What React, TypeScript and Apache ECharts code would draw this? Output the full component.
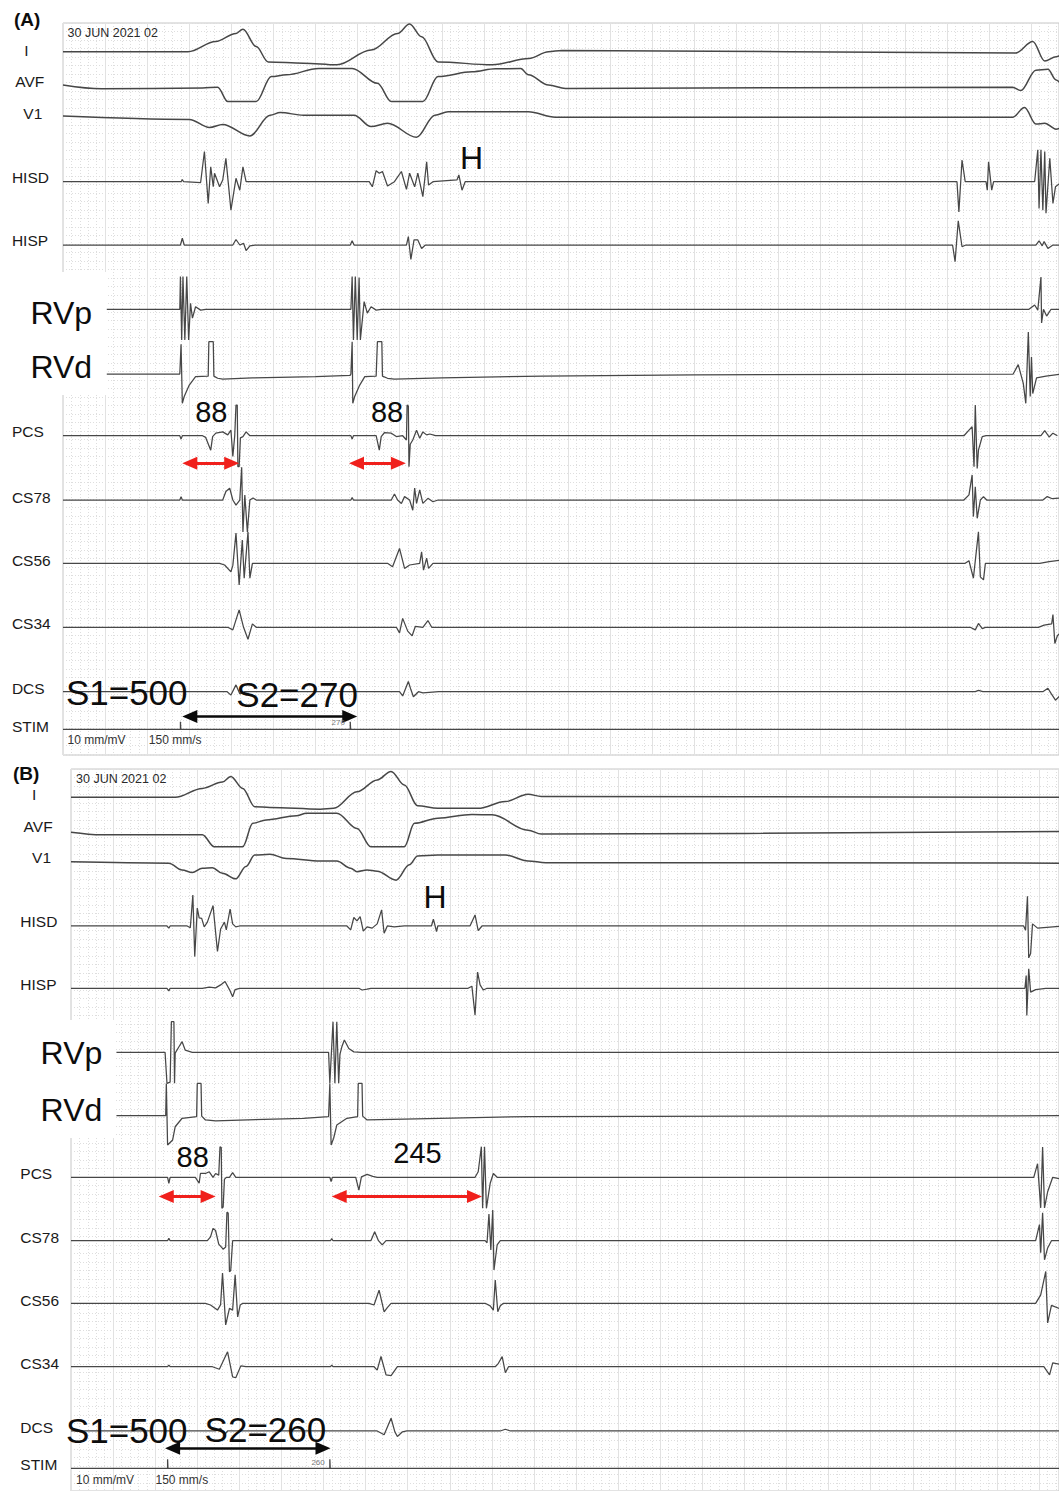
import React, { useEffect, useRef } from 'react';
import * as echarts from 'echarts';

type Pt = [number, number];

// ---------- channel names ----------
const channels = ['I', 'AVF', 'V1', 'HISD', 'HISP', 'RVp', 'RVd', 'PCS', 'CS78', 'CS56', 'CS34', 'DCS', 'STIM'];

// ---------- Panel A traces: [time ms, amplitude mm (10 mm/mV)] ----------
const aI: Pt[] = [[0,0],[198,0],[242,2.4],[274,4.3],[285,5.3],[306,1.2],[325,-2.4],[381,-2.7],[434,-3.1],[488,0.4],[530,4.3],[549,6.5],[568,3.5],[594,-2.4],[680,-3.1],[738,-1.6],[769,0],[790,0.3],[1509,-0.3],[1536,2.4],[1555,-2.2],[1573,-1.2],[1582,-0.6]];
const aAVF: Pt[] = [[0,0.7],[61,-0.2],[221,0],[245,0.2],[261,-3.2],[306,-3.2],[330,2.7],[354,3.1],[405,4.6],[458,4.6],[498,1.1],[520,-3.2],[570,-3.2],[594,2.7],[648,3.8],[685,4.5],[725,4.6],[737,3.1],[769,0.7],[796,-0.1],[1504,0.2],[1517,-0.6],[1541,4.2],[1560,4.4],[1573,1.9],[1582,0.5]];
const aV1: Pt[] = [[0,0],[200,-0.8],[232,-2.7],[253,-2.0],[296,-4.7],[328,0.2],[344,0.8],[381,0.2],[461,0.2],[488,-2.5],[514,-1.7],[560,-5.0],[589,0.2],[610,1.0],[737,1.0],[780,-0.3],[1504,-0.3],[1523,2.0],[1541,-1.9],[1555,-1.7],[1573,-3.1],[1582,-2.6]];
const aHISD: Pt[] = [[0,0],[187,0],[189,0.5],[191,0],[218,-0.2],[224,7.1],[230,-5.1],[234,3.5],[238,-1.2],[240,2.0],[248,-1.2],[253,0.4],[258,5.5],[266,-6.7],[274,0.8],[280,-2.0],[285,3.5],[290,0],[485,0],[490,-1.2],[496,2.6],[501,2.0],[506,2.4],[514,-1.0],[525,0],[536,2.4],[544,-1.8],[549,2.0],[557,-1.2],[562,2.0],[570,-3.5],[576,4.7],[579,-0.8],[586,0],[624,0.4],[627,1.6],[632,-2.0],[637,0],[1416,0],[1419,-7.1],[1424,5.1],[1429,0],[1462,0],[1464,-2.0],[1466,4.7],[1471,-2.0],[1474,0],[1539,0],[1544,7.5],[1546,-6.3],[1549,7.5],[1552,-6.7],[1555,7.1],[1557,-7.4],[1563,5.5],[1568,-5.1],[1572,-1.2],[1582,0]];
const aHISP: Pt[] = [[0,0],[186,0],[189,1.6],[192,0],[269,0],[274,1.3],[280,0],[286,0.4],[290,-1.3],[296,-0.2],[304,0],[455,0],[458,1.0],[461,0],[544,0],[547,2.0],[551,-3.4],[556,1.2],[562,1.2],[568,-0.8],[574,0],[1409,0],[1413,-3.9],[1418,5.7],[1424,-0.4],[1430,0],[1541,0],[1546,1.0],[1551,-0.2],[1554,0.8],[1560,-0.8],[1568,0],[1582,0]];
const aRVp: Pt[] = [[69,0],[185,0],[186,7.7],[188,-7.2],[190,7.7],[193,-7.2],[196,7.7],[199,-7.2],[202,1.4],[205,-2.1],[210,0.6],[218,-0.2],[226,0],[456,0],[458,7.7],[460,-7.2],[463,7.7],[466,-7.2],[469,7.5],[471,-7.2],[477,1.8],[482,-0.9],[488,0.6],[496,-0.2],[504,0],[1530,0],[1539,1.0],[1544,-0.2],[1549,7.6],[1550,-3.2],[1553,0],[1558,-1.6],[1565,0],[1582,0]];
const aRVd: Pt[] = [[69,0],[185,0],[187,7.0],[189,-6.9],[192,-5.3],[200,-2.6],[210,-0.6],[230,-0.5],[231,7.6],[238,7.6],[239,-0.5],[245,-1.0],[253,-1.2],[300,-0.9],[400,-0.6],[455,-0.3],[456,0],[458,7.6],[459,-6.9],[462,-5.3],[470,-2.6],[478,-0.6],[496,-0.5],[498,7.6],[505,7.6],[506,-0.5],[514,-1.0],[525,-1.2],[600,-0.9],[760,-0.5],[1000,-0.2],[1505,0],[1513,2.2],[1521,-2.2],[1525,-6.9],[1529,9.9],[1532,-5.3],[1534,4.0],[1536,-4.6],[1542,-0.9],[1557,-0.5],[1582,0]];
const aPCS: Pt[] = [[0,0],[185,0],[187,-0.8],[189,0],[221,0],[226,-0.4],[234,-3.4],[237,-0.2],[242,0.6],[253,0.9],[261,0.2],[266,1.3],[269,-4.9],[272,0],[274,7.2],[276,7.2],[277,-7.3],[279,-7.3],[281,-0.5],[285,-0.2],[290,0.9],[296,0],[456,0],[458,-0.8],[460,0],[496,0],[501,-3.4],[504,-0.2],[509,0.7],[520,0.6],[528,-0.2],[538,0],[544,-1.0],[545,7.2],[547,7.0],[548,-7.3],[550,-2.0],[554,-1.0],[560,1.3],[565,-0.6],[570,0.9],[576,0.2],[581,0.4],[590,0],[1427,0],[1435,1.3],[1440,2.1],[1443,-7.3],[1445,7.2],[1448,-7.7],[1450,-3.4],[1456,-0.2],[1462,0],[1549,0],[1555,1.2],[1562,-0.3],[1568,0.6],[1575,0]];
const aCS78: Pt[] = [[0,0],[185,0],[187,0.8],[189,0],[253,0],[258,2.0],[264,2.8],[269,0],[274,-1.2],[280,0],[283,7.7],[285,-7.5],[288,1.2],[292,-7.5],[296,0],[301,0.5],[306,0],[456,0],[458,0.6],[460,0],[520,0],[525,1.4],[530,0],[536,-0.8],[541,0.8],[549,0],[554,-2.4],[557,2.8],[560,-0.8],[565,2.4],[570,-0.8],[578,0.4],[586,-0.4],[594,0],[1427,0],[1435,1.2],[1440,5.9],[1442,-3.9],[1445,3.1],[1448,-4.3],[1453,0],[1458,0.8],[1463,0],[1552,0],[1559,0.8],[1567,0.3],[1582,0.5]];
const aCS56: Pt[] = [[0,0],[248,0],[256,-0.4],[266,-2.0],[269,-0.5],[274,7.1],[279,-5.1],[284,5.5],[287,-3.5],[293,7.4],[296,-3.5],[300,0],[514,0],[522,-0.8],[533,3.5],[541,-1.2],[549,-0.4],[565,0],[568,2.7],[571,-1.6],[576,1.2],[579,-1.2],[586,0],[1429,0],[1435,0.6],[1442,-3.5],[1450,7.4],[1453,-3.2],[1458,-3.9],[1461,0],[1547,0],[1562,0.4],[1582,0.8]];
const aCS34: Pt[] = [[0,0],[261,0],[269,-0.6],[279,4.1],[286,0],[293,-2.8],[300,0.8],[306,0],[528,0],[533,-1.3],[538,2.1],[546,-0.9],[553,-2.0],[558,0.2],[570,0],[578,1.6],[584,0],[1437,0],[1445,-0.6],[1450,0.9],[1456,-0.3],[1461,0],[1545,0],[1554,0.5],[1566,0.8],[1568,3.0],[1571,-3.8],[1575,-2.0],[1582,-1.0]];
const aDCS: Pt[] = [[0,0],[260,0],[266,-0.8],[274,1.6],[280,-0.5],[288,0],[533,0],[538,-1.0],[547,2.4],[551,0.5],[555,-1.2],[563,0],[570,-0.3],[595,0],[1445,0],[1450,0.3],[1457,0],[1552,0],[1560,0.8],[1565,-0.4],[1572,-2.0],[1582,-0.5]];
const aSTIM: Pt[] = [[0,0],[186,0],[186,1.8],[186.6,0],[455,0],[455,1.8],[455.6,0],[1582,0]];

// ---------- Panel B traces ----------
const bI: Pt[] = [[0,0],[165,0],[208,2.1],[240,3.6],[253,4.9],[272,2.1],[291,-2.2],[315,-2.4],[395,-2.8],[416,-2.6],[453,1.3],[485,4.1],[507,6.1],[528,2.9],[549,-2.0],[581,-2.6],[645,-2.6],[688,-1.0],[724,0.7],[745,0.2],[1570,0]];
const bAVF: Pt[] = [[0,0.4],[48,-0.2],[208,-0.2],[227,-3.0],[272,-3.0],[288,2.5],[309,3.3],[357,4.3],[373,4.9],[421,4.9],[453,1.3],[475,-3.0],[528,-3.0],[544,2.5],[581,3.7],[635,4.6],[667,4.5],[724,0.9],[745,0],[1570,0.6]];
const bV1: Pt[] = [[0,0.2],[155,-0.1],[176,-1.7],[192,-2.3],[208,-1.3],[224,-1.2],[240,-2.5],[261,-3.8],[277,-0.9],[291,1.8],[315,2.0],[341,1.0],[395,0.4],[421,0.4],[443,-1.3],[453,-2.1],[469,-1.7],[485,-2.0],[515,-4.1],[536,-0.5],[549,1.6],[581,1.8],[688,1.8],[724,0.4],[752,0],[1570,-0.1]];
const bHISD: Pt[] = [[0,0],[152,0],[155,-0.5],[157,0],[184,0],[189,-0.4],[193,7.3],[196,-7.2],[200,4.2],[203,1.9],[207,1.8],[211,-0.2],[216,0.9],[225,4.8],[232,-6.0],[237,-0.7],[243,0.9],[246,-0.9],[252,4.0],[256,0.5],[261,-0.2],[267,0],[437,0],[443,-0.9],[448,2.0],[453,1.2],[458,2.2],[463,-1.2],[469,-0.2],[477,-0.5],[485,0.5],[492,3.8],[496,-1.7],[501,0],[512,-0.2],[528,0],[571,0],[574,1.6],[579,-1.3],[581,0],[632,0],[640,2.6],[645,-1.1],[651,0],[1509,0],[1512,-1.0],[1515,7.0],[1517,-7.5],[1520,-6.5],[1523,0.5],[1531,-0.5],[1570,0]];
const bHISP: Pt[] = [[0,0],[152,0],[155,-0.6],[157,0],[208,0],[219,0.3],[229,0.1],[237,0.8],[244,1.6],[251,-0.3],[256,-2.0],[260,-0.3],[267,0],[456,0],[461,-0.4],[469,-0.2],[475,0],[629,0],[635,0.5],[640,-6.3],[644,3.8],[648,0.8],[653,-0.4],[659,0],[1511,0],[1513,3.0],[1514,-6.4],[1517,4.6],[1520,-0.9],[1528,-0.3],[1544,0],[1570,0]];
const bRVp: Pt[] = [[72,0],[149,0],[152,-7.3],[157,-7.0],[159,7.2],[163,7.2],[164,-7.3],[165,-0.2],[171,1.3],[176,2.5],[181,0.5],[192,0],[408,0],[410,-7.3],[415,7.2],[418,-7.3],[421,7.2],[424,-7.3],[426,-0.5],[429,1.3],[433,2.9],[440,0.9],[448,0.1],[460,0],[1570,0]];
const bRVd: Pt[] = [[72,0],[150,0],[151,7.6],[153,-6.9],[161,-5.7],[165,-2.6],[176,-0.6],[199,-0.2],[200,7.6],[206,7.6],[207,-0.1],[213,-1.0],[229,-1.2],[368,-0.6],[408,-0.2],[410,7.6],[412,-6.9],[416,-5.3],[421,-2.2],[437,-0.6],[454,-0.2],[455,7.6],[461,7.6],[462,-0.1],[469,-1.0],[528,-0.8],[724,-0.2],[1570,0]];
const bPCS: Pt[] = [[0,0],[153,0],[155,-1.4],[157,0],[197,0],[203,-1.4],[205,0.9],[213,0.9],[219,1.3],[225,0],[229,0.9],[234,0.5],[236,7.2],[238,7.0],[239,-7.3],[241,-7.0],[243,-0.5],[246,0],[251,0],[256,1.1],[261,0],[410,0],[412,-1.0],[414,0],[451,0],[456,-3.0],[460,0.1],[469,0.7],[478,0.2],[485,0],[640,0],[645,1.3],[650,7.2],[652,-7.3],[655,7.2],[658,-7.3],[664,-1.4],[669,0.9],[675,0],[1525,0],[1531,3.2],[1536,-7.2],[1539,7.1],[1542,-7.2],[1547,-3.4],[1555,0],[1570,-0.5]];
const bCS78: Pt[] = [[0,0],[153,0],[155,0.6],[157,0],[216,0],[221,0.9],[225,2.9],[229,2.4],[234,-0.8],[241,-2.0],[245,-1.5],[247,6.7],[249,6.5],[251,-7.3],[253,-7.0],[256,0],[261,0],[411,0],[413,0.5],[415,0],[475,0],[481,2.1],[487,0],[493,-1.0],[499,0],[656,0],[659,-0.5],[662,6.3],[665,-2.2],[668,7.2],[670,-6.9],[675,-1.0],[680,0],[1528,0],[1534,3.8],[1536,-2.8],[1539,6.6],[1542,-4.5],[1547,-1.7],[1553,0],[1570,0]];
const bCS56: Pt[] = [[0,0],[213,0],[221,-0.4],[232,-1.6],[237,-0.3],[240,7.1],[245,-5.1],[251,-1.2],[256,-1.6],[260,6.7],[264,-3.2],[268,-0.4],[272,0],[472,0],[480,-0.4],[488,3.1],[496,-2.0],[501,-1.0],[507,0],[656,0],[664,-0.6],[669,-1.6],[672,5.5],[676,-2.0],[680,-0.6],[685,0],[1528,0],[1536,2.0],[1544,7.5],[1547,-4.6],[1553,-0.5],[1570,-1.5]];
const bCS34: Pt[] = [[0,0],[153,0],[155,0.4],[157,0],[224,0],[235,-0.6],[248,3.5],[256,-2.4],[261,-2.6],[269,0.2],[277,0],[411,0],[413,0.4],[415,0],[480,0],[485,-0.8],[491,2.4],[499,-1.9],[507,-2.1],[517,0],[672,0],[677,0.8],[683,2.4],[688,-1.4],[693,0],[1541,0],[1550,-1.9],[1555,0.9],[1570,0.5]];
const bDCS: Pt[] = [[0,0],[229,0],[237,0.6],[243,-0.9],[248,0],[485,0],[496,-0.9],[507,3.0],[513,-0.2],[517,-1.3],[525,-0.2],[532,0],[680,0],[688,0.4],[696,0],[1570,0]];
const bSTIM: Pt[] = [[0,0],[153,0],[153,2.1],[153.6,0],[410,0],[410,2.1],[410.6,0],[1570,0]];

// ---------- measured intervals (ms) drawn as arrows ----------
const intervalsA = [
  { from: 189, to: 279, kind: 'red' },
  { from: 453, to: 543, kind: 'red' },
  { from: 189, to: 466, kind: 'black' },
];
const intervalsB = [
  { from: 139, to: 229, kind: 'red' },
  { from: 413, to: 651, kind: 'red' },
  { from: 149, to: 411, kind: 'black' },
];

// ---------- layout (positions / sizes, not data) ----------
const PX_PER_MS = 0.63388;
const PX_PER_MM = 4.25;
const MS_PER_PX = 1 / PX_PER_MS;
const INSET = 7.5 * MS_PER_PX;

const baselinesA = [6.75, 15.29, 21.88, 37.34, 52.24, 67.36, 82.59, 97.11, 112.24, 127.13, 142.19, 157.34, 166.19];
const baselinesB = [6.66, 15.29, 22.05, 36.94, 51.6, 66.66, 81.58, 96.07, 110.99, 125.72, 140.64, 155.76, 164.54];
const arrowLevelsA = { red: 103.6, black: 163.2 };
const arrowLevelsB = { red: 100.6, black: 159.8 };

const labelPosA: Pt[] = [[24.3,50],[15.2,81.7],[23.3,113],[11.9,177.5],[11.9,240],[0,0],[0,0],[11.9,431.7],[11.9,497.5],[11.9,560],[11.9,623.5],[11.9,688],[11.9,726]];
const labelPosB: Pt[] = [[32.1,794],[23.6,826.7],[32.1,857.5],[20.3,921],[20.3,984],[0,0],[0,0],[20.3,1173],[20.3,1237.5],[20.3,1300],[20.3,1363.5],[20.3,1427.5],[20.3,1464]];

const FONT = '"Liberation Sans", Arial, Helvetica, sans-serif';
const ARROW = 'path://M5,0 L10,12 L0,12 Z';

type Ann = { text: string; x: number; y: number; size: number; bold?: boolean; align?: string; color?: string };
const annotations: Ann[] = [
  { text: '(A)', x: 14, y: 19, size: 19, bold: true },
  { text: '30 JUN 2021 02', x: 67.6, y: 32.5, size: 12.5, color: '#2a2a2a' },
  { text: '10 mm/mV', x: 67.6, y: 740, size: 12, color: '#333' },
  { text: '150 mm/s', x: 148.8, y: 740, size: 12, color: '#333' },
  { text: 'RVp', x: 30.4, y: 313.3, size: 32 },
  { text: 'RVd', x: 30.4, y: 367.3, size: 32 },
  { text: 'H', x: 471.6, y: 158.3, size: 32, align: 'center' },
  { text: '88', x: 211.3, y: 411.7, size: 29, align: 'center' },
  { text: '88', x: 387.1, y: 411.7, size: 29, align: 'center' },
  { text: 'S1=500', x: 65.9, y: 692.5, size: 35 },
  { text: 'S2=270', x: 236.3, y: 694, size: 35 },
  { text: '270', x: 331.6, y: 722.7, size: 8, color: '#777' },
  { text: '(B)', x: 13, y: 773, size: 19, bold: true },
  { text: '30 JUN 2021 02', x: 76, y: 779, size: 12.5, color: '#2a2a2a' },
  { text: '10 mm/mV', x: 76, y: 1480, size: 12, color: '#333' },
  { text: '150 mm/s', x: 155.5, y: 1480, size: 12, color: '#333' },
  { text: 'RVp', x: 40.6, y: 1053, size: 32 },
  { text: 'RVd', x: 40.6, y: 1110, size: 32 },
  { text: 'H', x: 435.1, y: 896.7, size: 32, align: 'center' },
  { text: '88', x: 192.7, y: 1156.7, size: 29, align: 'center' },
  { text: '245', x: 417.5, y: 1152.5, size: 29, align: 'center' },
  { text: 'S1=500', x: 65.9, y: 1430.5, size: 35 },
  { text: 'S2=260', x: 204.6, y: 1429, size: 35 },
  { text: '260', x: 311.4, y: 1462, size: 8, color: '#777' },
];

const panels = [
  { left: 63, top: 23, width: 1000, height: 732, baselines: baselinesA, levels: arrowLevelsA, labels: labelPosA,
    traces: [aI, aAVF, aV1, aHISD, aHISP, aRVp, aRVd, aPCS, aCS78, aCS56, aCS34, aDCS, aSTIM], intervals: intervalsA,
    box: { x: 0, y: 272, w: 106.5, h: 123 } },
  { left: 71, top: 769, width: 992, height: 722, baselines: baselinesB, levels: arrowLevelsB, labels: labelPosB,
    traces: [bI, bAVF, bV1, bHISD, bHISP, bRVp, bRVd, bPCS, bCS78, bCS56, bCS34, bDCS, bSTIM], intervals: intervalsB,
    box: { x: 0, y: 1020, w: 115, h: 118 } },
];

function buildOption() {
  const grid: any[] = [];
  const xAxis: any[] = [];
  const yAxis: any[] = [];
  const series: any[] = [];
  const graphics: any[] = [];

  panels.forEach((p, pi) => {
    grid.push({ left: p.left, top: p.top, width: p.width, height: p.height, show: true,
      borderColor: '#c6c6c6', borderWidth: 1, backgroundColor: '#fff' });
    xAxis.push({ type: 'value', gridIndex: pi, min: 0, max: p.width * MS_PER_PX, interval: 200 / 3,
      axisLine: { show: false }, axisTick: { show: false }, axisLabel: { show: false },
      splitLine: { show: true, lineStyle: { color: '#e2e2e2', width: 1 } },
      minorTick: { show: false, splitNumber: 5 },
      minorSplitLine: { show: true, lineStyle: { color: '#dedede', width: 1, type: [1, 2] } } });
    yAxis.push({ type: 'value', gridIndex: pi, inverse: true, min: 0, max: p.height / PX_PER_MM, interval: 10,
      axisLine: { show: false }, axisTick: { show: false }, axisLabel: { show: false },
      splitLine: { show: true, lineStyle: { color: '#dedede', width: 1, type: [1, 2] } },
      minorTick: { show: false, splitNumber: 5 },
      minorSplitLine: { show: true, lineStyle: { color: '#dedede', width: 1, type: [1, 2] } } });

    p.traces.forEach((tr, ci) => {
      const base = p.baselines[ci];
      const isEcg = ci < 3;
      const s: any = {
        type: 'line', name: channels[ci] + (pi ? ' B' : ' A'), xAxisIndex: pi, yAxisIndex: pi,
        data: tr.map(([t, a]) => [t, base - a]),
        showSymbol: false, symbol: 'none', silent: true, z: 3, clip: true,
        smooth: isEcg ? 0.35 : false,
        smoothMonotone: isEcg ? 'x' : undefined,
        lineStyle: { color: '#474747', width: isEcg ? 1.5 : 1.25 },
      };
      if (channels[ci] === 'STIM') {
        s.markLine = {
          silent: true, symbol: [ARROW, ARROW], symbolSize: [13, 15],
          label: { show: false }, emphasis: { disabled: true },
          data: p.intervals.map((iv) => {
            const red = iv.kind === 'red';
            const level = red ? p.levels.red : p.levels.black;
            return [
              { coord: [iv.from + INSET, level],
                lineStyle: { color: red ? '#f0201c' : '#0a0a0a', width: red ? 3 : 2.5, type: 'solid' } },
              { coord: [iv.to - INSET, level] },
            ];
          }),
        };
      }
      series.push(s);

      if (channels[ci] !== 'RVp' && channels[ci] !== 'RVd') {
        const [lx, ly] = p.labels[ci];
        graphics.push({ type: 'text', x: lx, y: ly, z: 10, silent: true,
          style: { text: channels[ci], font: `15.5px ${FONT}`, fill: '#1a1a1a',
            align: 'left', verticalAlign: 'middle', textAlign: 'left', textVerticalAlign: 'middle' } });
      }
    });

    graphics.push({ type: 'rect', z: 5, silent: true,
      shape: { x: p.box.x, y: p.box.y, width: p.box.w, height: p.box.h }, style: { fill: '#ffffff' } });
  });

  annotations.forEach((a) => {
    const align = a.align || 'left';
    graphics.push({ type: 'text', x: a.x, y: a.y, z: 10, silent: true,
      style: { text: a.text, font: `${a.bold ? 'bold ' : ''}${a.size}px ${FONT}`, fill: a.color || '#0d0d0d',
        align, verticalAlign: 'middle', textAlign: align, textVerticalAlign: 'middle' } });
  });

  return {
    animation: false,
    backgroundColor: '#ffffff',
    grid, xAxis, yAxis, series,
    graphic: { elements: graphics },
  };
}

export default function App() {
  const ref = useRef<HTMLDivElement>(null);
  useEffect(() => {
    if (!ref.current) return;
    const chart = echarts.init(ref.current, null, { renderer: 'svg' });
    chart.setOption(buildOption() as any);
    return () => chart.dispose();
  }, []);
  return (
    <div
      ref={ref}
      style={{ position: 'absolute', left: 0, top: 0, width: 1059, height: 1491, background: '#fff' }}
    />
  );
}
